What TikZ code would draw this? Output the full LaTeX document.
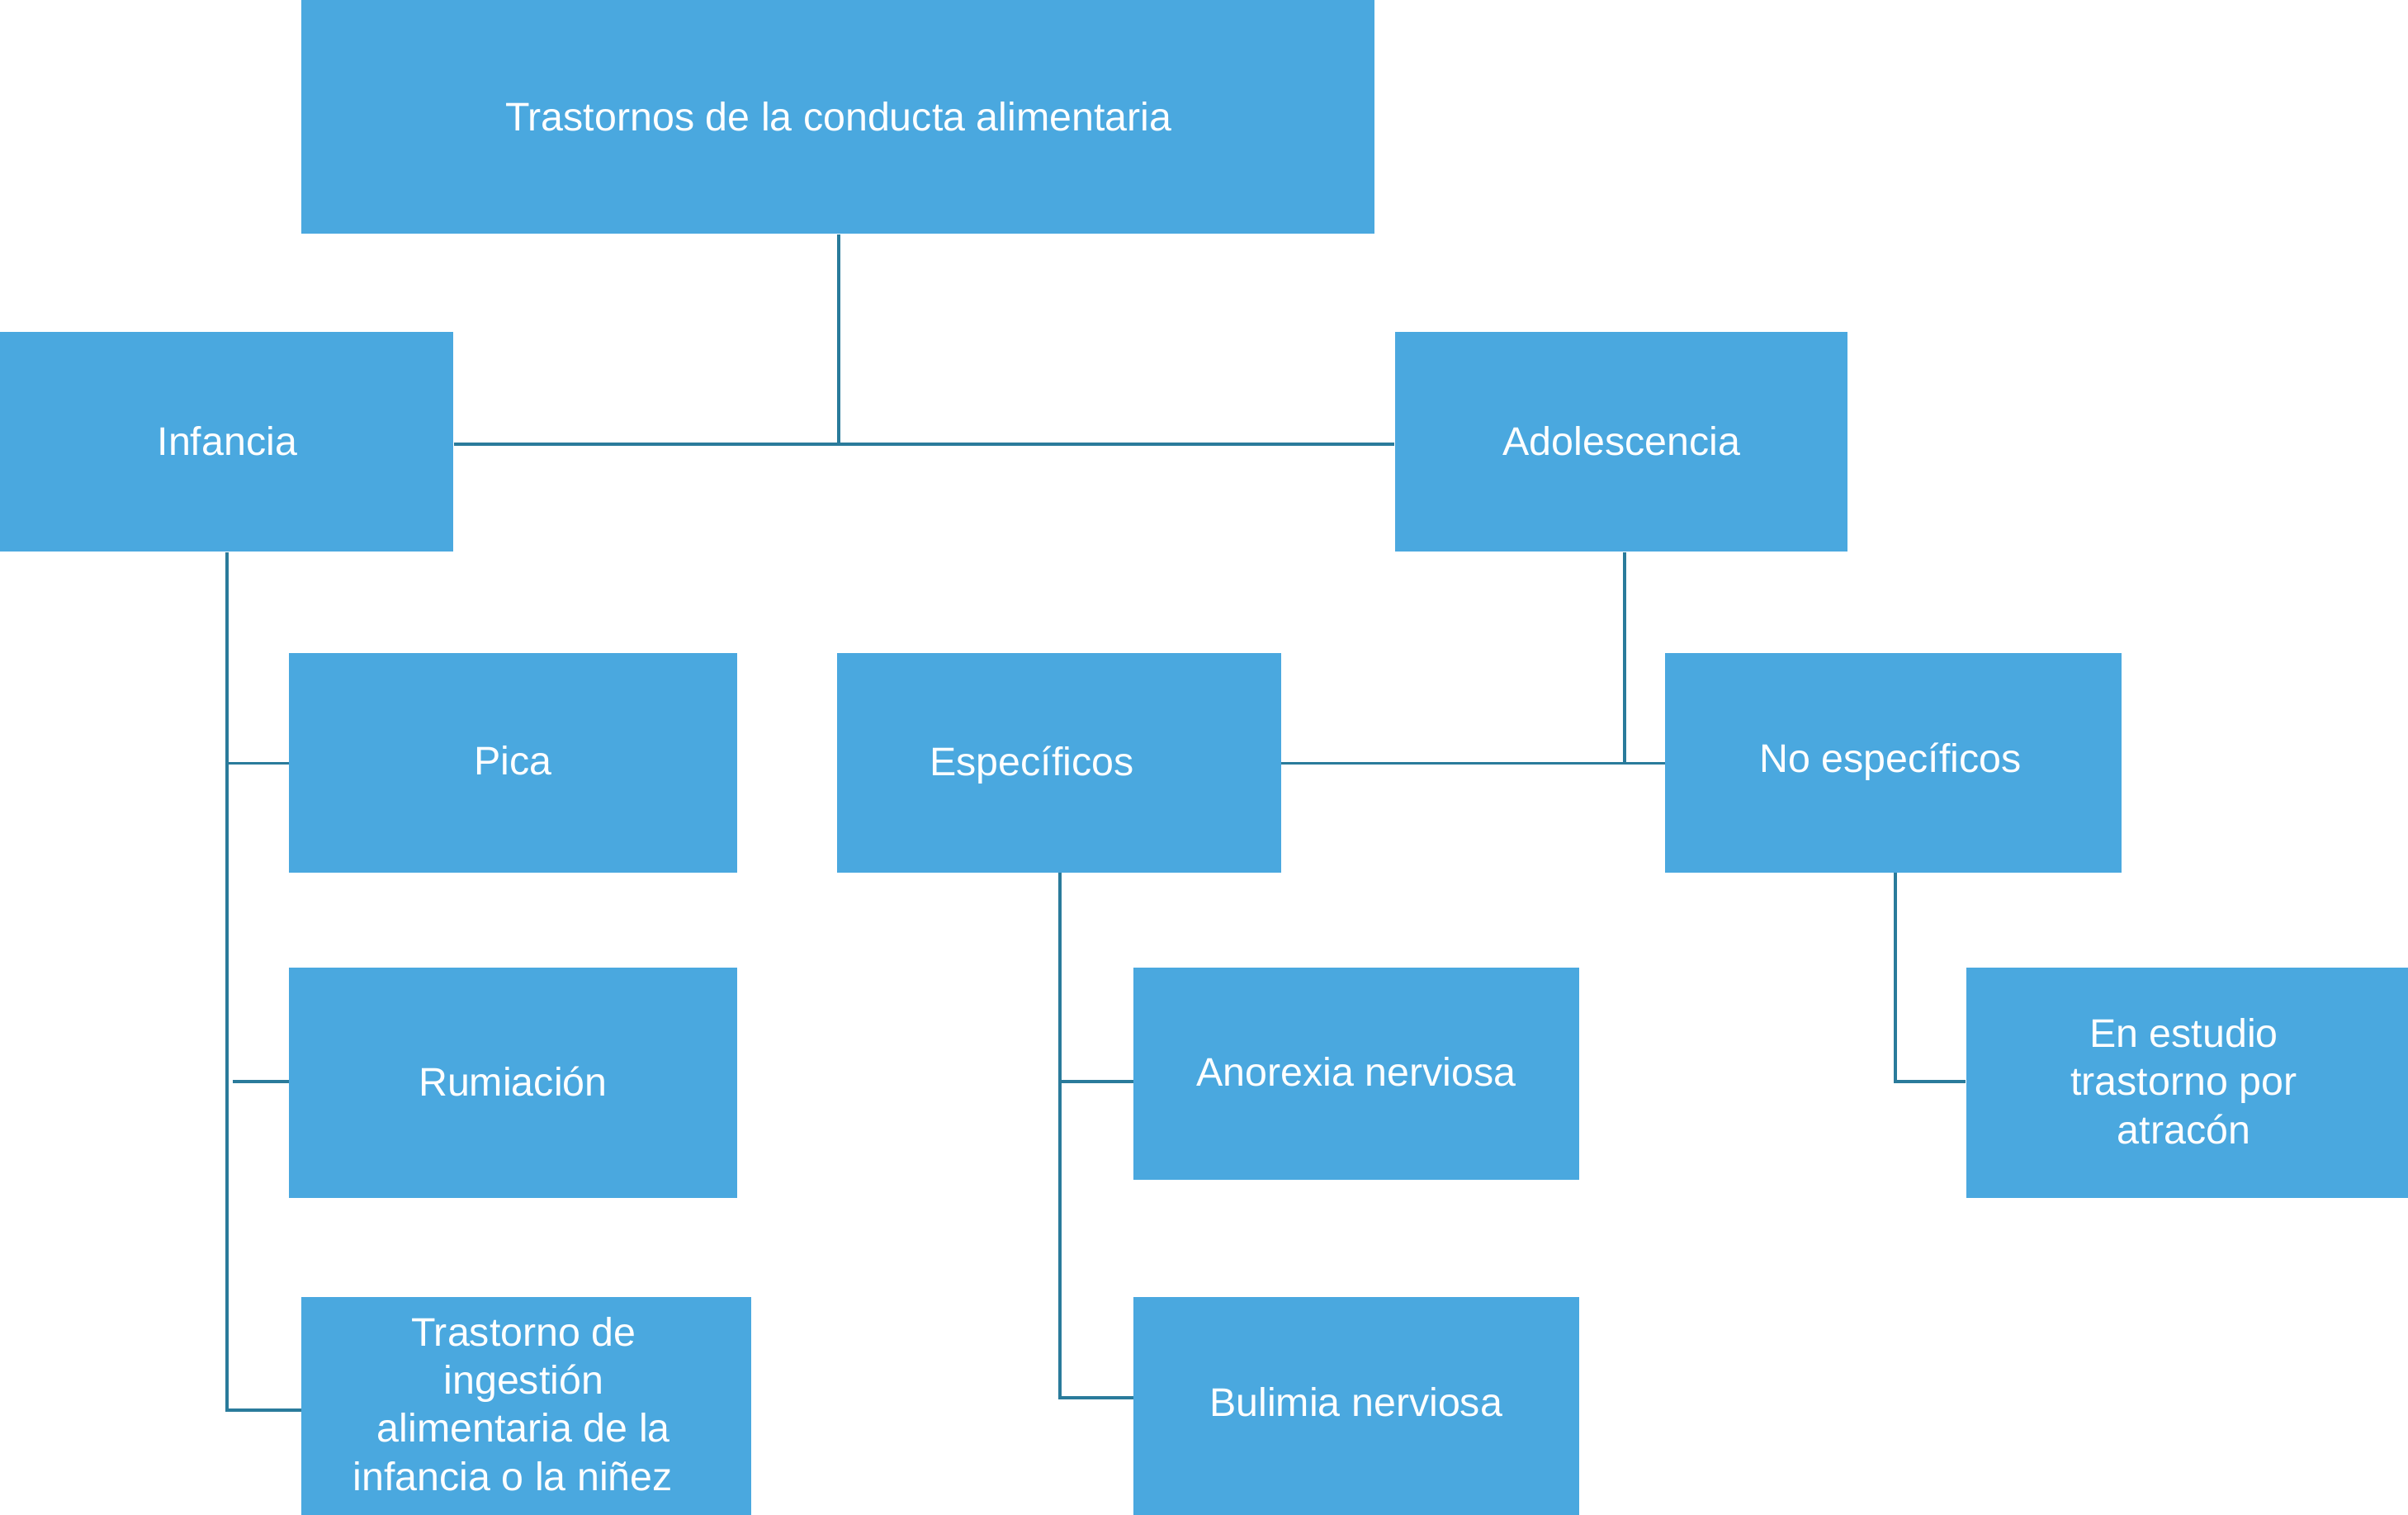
\documentclass[tikz,border=0pt]{standalone}
\usepackage{fontspec}
\setmainfont{Liberation Sans}
\definecolor{boxblue}{HTML}{4AA8DF}
\definecolor{linkteal}{HTML}{2A7B9B}
\begin{document}
\begin{tikzpicture}[x=1pt,y=-1pt,
  bx/.style={fill=boxblue, draw=none, inner sep=0pt, anchor=north west, text=white,
    font=\fontsize{26}{31.3}\selectfont, align=center},
  txt/.style={text=white, inner sep=0pt, font=\fontsize{26}{31.3}\selectfont, align=center},
  link/.style={draw=linkteal, line width=2pt}]
\useasboundingbox (0,0) rectangle (1568,986);
% boxes
\node[bx, minimum width=699pt, minimum height=152pt] (top) at (196,0) {};
\node[txt] (toptxt) at (546,76) {Trastornos de la conducta alimentaria};
\node[bx, minimum width=295pt, minimum height=143pt] (inf) at (0,216) {};
\node[txt] (inftxt) at (148,287) {Infancia};
\node[bx, minimum width=295pt, minimum height=143pt] (ado) at (908,216) {};
\node[txt] (adotxt) at (1056,287) {Adolescencia};
\node[bx, minimum width=292pt, minimum height=143pt] (pica) at (188,425) {};
\node[txt] (picatxt) at (334,495) {Pica};
\node[bx, minimum width=292pt, minimum height=150pt] (rum) at (188,630) {};
\node[txt] (rumtxt) at (334,704) {Rumiación};
\node[bx, minimum width=293pt, minimum height=150pt] (tra) at (196,844) {};
\node[txt] (tratxt) at (341,914) {Trastorno de\\ingestión\\alimentaria de la\\infancia o la niñez\hspace*{14pt}};
\node[bx, minimum width=289pt, minimum height=143pt] (esp) at (545,425) {};
\node[txt] (esptxt) at (672,498) {Específicos};
\node[bx, minimum width=297pt, minimum height=143pt] (noe) at (1084,425) {};
\node[txt] (noetxt) at (1231,496) {No específicos};
\node[bx, minimum width=290pt, minimum height=138pt] (ano) at (738,630) {};
\node[txt] (anotxt) at (883,698) {Anorexia nerviosa};
\node[bx, minimum width=290pt, minimum height=150pt] (bul) at (738,844) {};
\node[txt] (bultxt) at (883,913) {Bulimia nerviosa};
\node[bx, minimum width=290pt, minimum height=150pt] (est) at (1280,630) {};
\node[txt] (esttxt) at (1422,704) {En estudio\\trastorno por\\atracón};
% junction coordinates
\coordinate (j0) at (546,289);
\coordinate (ji) at (148,918);
\coordinate (jp) at (148,497);
\coordinate (jr) at (151.5,704);
\coordinate (ja) at (1058,497);
\coordinate (je) at (690,910);
\coordinate (jan) at (690,704);
\coordinate (jn) at (1234,704);
% connectors
\draw[link] (inf.east |- j0) -- (ado.west |- j0);
\draw[link] (top.south -| j0) -- (j0);
\draw[link] (inf.south -| ji) -- (ji) -- (tra.west |- ji);
\draw[link] (jp) -- (pica.west |- jp);
\draw[link] (jr) -- (rum.west |- jr);
\draw[link] (ado.south -| ja) -- (ja);
\draw[link] (esp.east |- ja) -- (noe.west |- ja);
\draw[link] (esp.south -| je) -- (je) -- (bul.west |- je);
\draw[link] (jan) -- (ano.west |- jan);
\draw[link] (noe.south -| jn) -- (jn) -- (est.west |- jn);
\end{tikzpicture}
\end{document}
